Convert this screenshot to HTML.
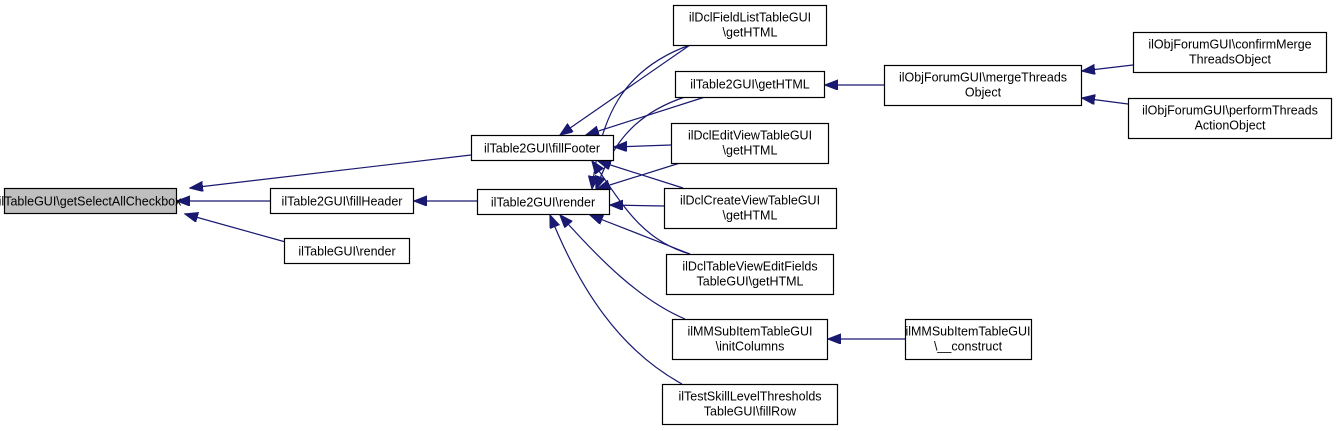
<!DOCTYPE html>
<html><head><meta charset="utf-8"><style>
html,body{margin:0;padding:0;background:#fff;}
svg{display:block;}
text{font-family:"Liberation Sans",sans-serif;font-size:12.5px;fill:#000;text-anchor:middle;}
rect{fill:#fff;stroke:#000;stroke-width:1.2;}
path{fill:none;stroke:#191970;stroke-width:1.2;}
</style></head><body>
<svg width="1339" height="431" viewBox="0 0 1339 431" xmlns="http://www.w3.org/2000/svg">
<defs><marker id="a" markerUnits="userSpaceOnUse" markerWidth="14" markerHeight="12" refX="13" refY="5" orient="auto"><path d="M0,0 L13,5 L0,10 Z" style="fill:#191970;stroke:#191970"/></marker></defs>
<g marker-end="url(#a)">
<path d="M471,155 L190,188"/>
<path d="M270,201 L177,201"/>
<path d="M300,246 L185,214"/>
<path d="M477,201 L414,201"/>
<path d="M690,45 L560,135"/>
<path d="M690,45 C620,70 600,120 592,189"/>
<path d="M705,97 L586,135"/>
<path d="M685,97 C630,115 610,150 596,189"/>
<path d="M671,145 L614,147"/>
<path d="M680,163 L597,189"/>
<path d="M683,188 L598,161"/>
<path d="M664,206 L610,205"/>
<path d="M690,254 C640,240 620,200 592,161"/>
<path d="M690,254 L590,215"/>
<path d="M685,319 C640,300 600,260 560,215"/>
<path d="M682,384 C620,350 580,290 550,215"/>
<path d="M884,85 L825,85"/>
<path d="M1133,65 L1082,71"/>
<path d="M1128,104 L1082,98"/>
<path d="M905,339 L828,339"/>
</g>
<rect x="4.5" y="188.5" width="172" height="25" style="fill:#bfbfbf"/>
<text x="90" y="205.5">ilTableGUI\getSelectAllCheckbox</text>
<rect x="270.5" y="188.5" width="143" height="25"/><text x="342" y="205.5">ilTable2GUI\fillHeader</text>
<rect x="284.5" y="238.5" width="125" height="25"/><text x="347" y="255.5">ilTableGUI\render</text>
<rect x="471.5" y="135.5" width="142" height="25"/><text x="542" y="152.5">ilTable2GUI\fillFooter</text>
<rect x="477.5" y="189.5" width="132" height="25"/><text x="543" y="206.5">ilTable2GUI\render</text>
<rect x="673.5" y="5.5" width="153" height="40"/><text x="750" y="21.5">ilDclFieldListTableGUI</text><text x="750" y="36.5">\getHTML</text>
<rect x="675.5" y="71.5" width="149" height="26"/><text x="750" y="88.5">ilTable2GUI\getHTML</text>
<rect x="671.5" y="123.5" width="157" height="40"/><text x="750" y="139.5">ilDclEditViewTableGUI</text><text x="750" y="154.5">\getHTML</text>
<rect x="664.5" y="188.5" width="172" height="40"/><text x="750" y="204.5">ilDclCreateViewTableGUI</text><text x="750" y="219.5">\getHTML</text>
<rect x="666.5" y="254.5" width="167" height="40"/><text x="750" y="270.5">ilDclTableViewEditFields</text><text x="750" y="285.5">TableGUI\getHTML</text>
<rect x="672.5" y="319.5" width="155" height="40"/><text x="750" y="335.5">ilMMSubItemTableGUI</text><text x="750" y="350.5">\initColumns</text>
<rect x="662.5" y="384.5" width="175" height="40"/><text x="750" y="400.5">ilTestSkillLevelThresholds</text><text x="750" y="415.5">TableGUI\fillRow</text>
<rect x="884.5" y="65.5" width="197" height="40"/><text x="983" y="81.5">ilObjForumGUI\mergeThreads</text><text x="983" y="96.5">Object</text>
<rect x="1133.5" y="32.5" width="193" height="40"/><text x="1230" y="48.5">ilObjForumGUI\confirmMerge</text><text x="1230" y="63.5">ThreadsObject</text>
<rect x="1128.5" y="98.5" width="203" height="40"/><text x="1230" y="114.5">ilObjForumGUI\performThreads</text><text x="1230" y="129.5">ActionObject</text>
<rect x="905.5" y="319.5" width="126" height="40"/><text x="968" y="335.5">ilMMSubItemTableGUI</text><text x="968" y="350.5">\__construct</text>
</svg>
</body></html>
